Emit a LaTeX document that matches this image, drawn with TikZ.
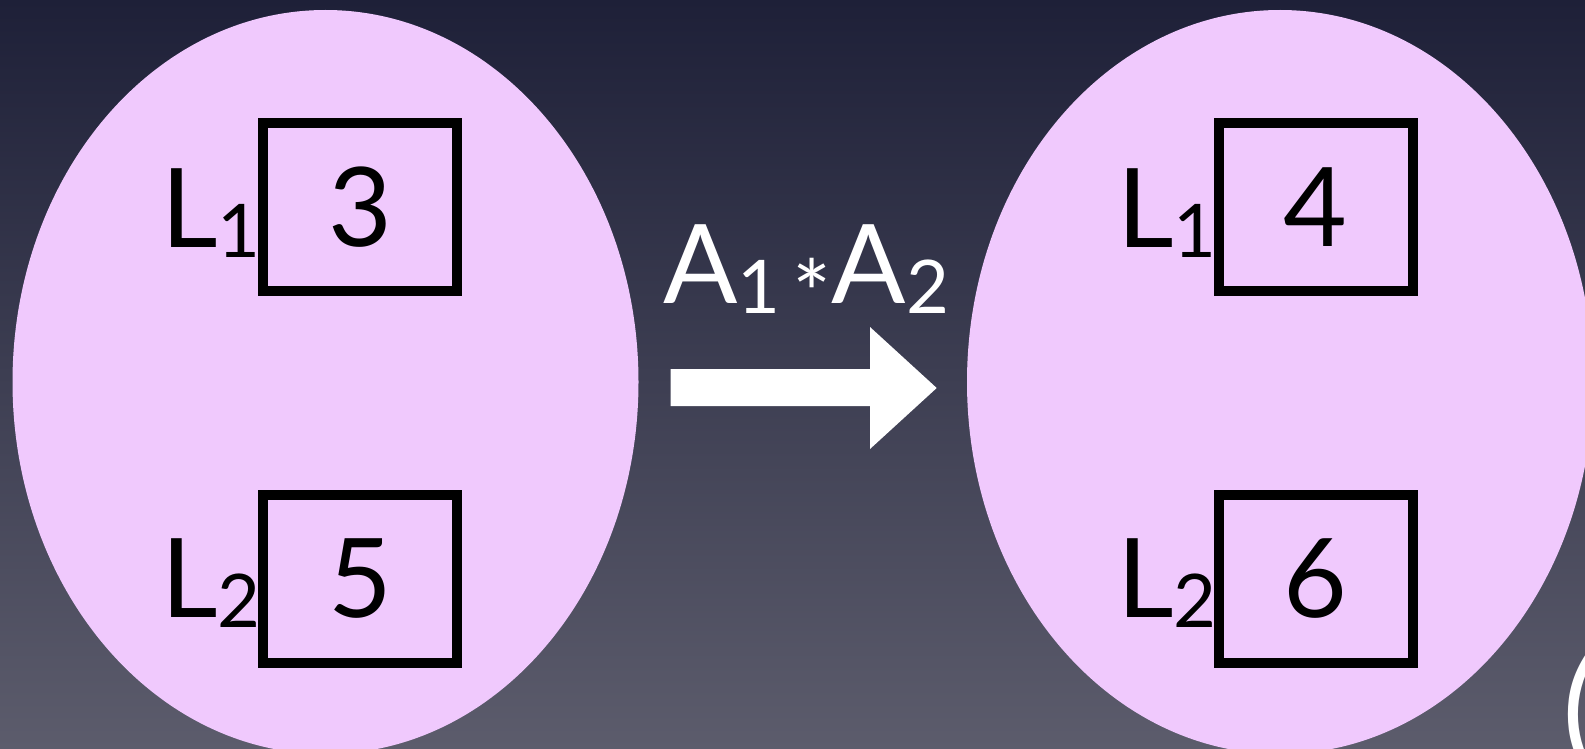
\documentclass[tikz,border=0pt]{standalone}
\usepackage{fontspec}
\setmainfont{Lato}
\definecolor{pinkfill}{RGB}{240,201,253}
\definecolor{bgtop}{RGB}{30,32,56}
\definecolor{bgbot}{RGB}{92,92,108}
\newcommand{\bigsz}{\fontsize{110}{112}\selectfont}
\newcommand{\subsz}{\fontsize{74}{74}\selectfont}
\newcommand{\lsub}[1]{\raisebox{-10pt}{\subsz #1}}
\begin{document}
\begin{tikzpicture}[x=1pt,y=-1pt,
  blob/.style={fill=pinkfill},
  valbox/.style={draw=black, line width=10pt, minimum width=194pt, minimum height=168pt, inner sep=0pt, font=\bigsz, text=black},
  lbl/.style={anchor=base west, inner sep=0pt, font=\bigsz, text=black},
  bigarrow/.style={fill=white},
]
\useasboundingbox (0,0) rectangle (1585,749);
\clip (0,0) rectangle (1585,749);
\shade[top color=bgtop, bottom color=bgbot] (0,0) rectangle (1585,749);

% state blobs
\fill[blob] (325.5,382) ellipse [x radius=313pt, y radius=372pt];
\fill[blob] (1280,382) ellipse [x radius=313pt, y radius=372pt];

% left state
\node[valbox] (l1) at (360,207) {3};
\node[valbox] (l2) at (360,578.5) {5};
\node[lbl] (ll1) at (161,247) {L\lsub{1}};
\node[lbl] (ll2) at (161,617) {L\lsub{2}};

% right state
\node[valbox] (r1) at (1315.5,207) {4};
\node[valbox] (r2) at (1315.5,578.5) {6};
\node[lbl] (rl1) at (1117,247) {L\lsub{1}};
\node[lbl] (rl2) at (1117,617) {L\lsub{2}};

% operation
\node[lbl, text=white] (op) at (663,303) {A\lsub{1}\hspace{12pt}\raisebox{-24pt}{\fontsize{92}{92}\selectfont *}\hspace{0pt}A\lsub{2}};
\coordinate (s1) at (670.7,369);
\coordinate (s2) at (870,369);
\coordinate (h1) at (870,327);
\coordinate (tip) at (936.7,388);
\coordinate (h2) at (870,449);
\coordinate (s3) at (870,406);
\coordinate (s4) at (670.7,406);
\fill[bigarrow] (s1) -- (s2) -- (h1) -- (tip) -- (h2) -- (s3) -- (s4) -- cycle;

% cut-off glyph at the right edge
\node[anchor=west, inner sep=0pt, text=white, font=\fontsize{130}{130}\selectfont] (paren) at (1562,715) {(};
\end{tikzpicture}
\end{document}
